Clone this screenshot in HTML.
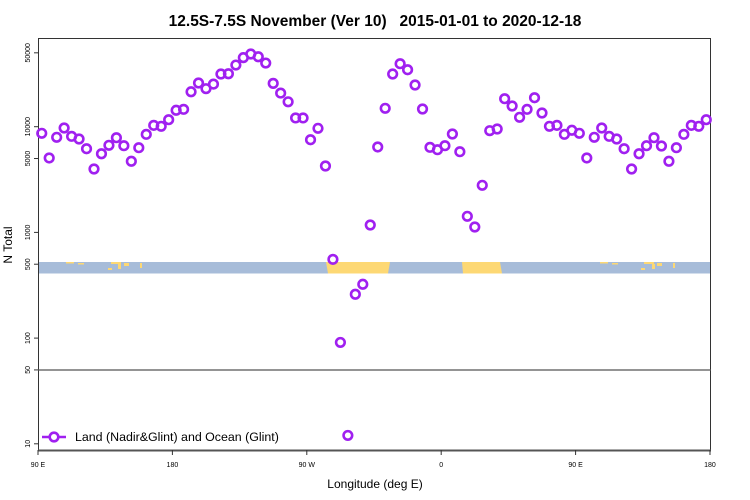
<!DOCTYPE html>
<html><head><meta charset="utf-8"><style>
body{margin:0;background:#fff;}
svg{display:block;font-family:"Liberation Sans",sans-serif;}
</style></head><body>
<svg id="chart" width="750" height="500" viewBox="0 0 750 500" xmlns="http://www.w3.org/2000/svg">
<text xml:space="preserve" style="white-space:pre" x="375" y="26" font-size="15.5" font-weight="bold" text-anchor="middle">12.5S-7.5S November (Ver 10)   2015-01-01 to 2020-12-18</text>
<g id="band">
<rect x="38" y="262" width="672" height="11.5" fill="#a7bcd9"/>
<polygon points="326,262 390,262 388,273.5 328,273.5" fill="#fdd874"/>
<polygon points="462,262 500,262 502,273.5 463,273.5" fill="#fdd874"/>
<rect x="66" y="262" width="8" height="1.5" fill="#fdd874"/><rect x="78" y="263" width="6" height="1.5" fill="#fdd874"/>
<rect x="111" y="262" width="10" height="2" fill="#fdd874"/><rect x="118" y="264" width="3" height="5" fill="#fdd874"/>
<rect x="124" y="263" width="5" height="3" fill="#fdd874"/><rect x="108" y="268" width="4" height="2" fill="#fdd874"/>
<rect x="140" y="263" width="2" height="5" fill="#fdd874"/>
<rect x="600" y="262" width="8" height="1.5" fill="#fdd874"/><rect x="612" y="263" width="6" height="1.5" fill="#fdd874"/>
<rect x="644" y="262" width="10" height="2" fill="#fdd874"/><rect x="652" y="264" width="3" height="5" fill="#fdd874"/>
<rect x="657" y="263" width="5" height="3" fill="#fdd874"/><rect x="641" y="268" width="4" height="2" fill="#fdd874"/>
<rect x="673" y="263" width="2" height="5" fill="#fdd874"/>
</g>
<g id="axes"></g>
<g id="points"></g>
<g>
<line x1="42" y1="437" x2="66" y2="437" stroke="#a020f0" stroke-width="2.5"/>
<circle cx="54" cy="437" r="4.3" fill="#fff" stroke="#a020f0" stroke-width="2.6"/>
<text x="75" y="441" font-size="12.4">Land (Nadir&amp;Glint) and Ocean (Glint)</text>
</g>
<text x="375" y="488" font-size="12" text-anchor="middle">Longitude (deg E)</text>
<text transform="translate(12,245) rotate(-90)" font-size="12" text-anchor="middle">N Total</text>
</svg>
<script>
const lonStart = 92.5, lonStep = 5;
const counts = [8660,5060,7940,9720,8110,7650,6190,3980,5550,6670,7870,6610,4710,6330,8470,10300,10090,11650,14300,14600,
21400,25900,22900,25300,31500,31700,38300,45000,48700,45900,40000,25700,20800,17200,12100,12100,7530,9660,4250,556,
91,12,260,323,1175,6430,14930,31500,39450,34600,24800,14700,6380,6060,6610,8530,5800,1420,1125,2790,
9170,9510,18400,15700,12270,14600,18800,13480,10090,10300,8470,9250,8660,5060,7940,9720,8110,7650,6190,3980,
5550,6610,7870,6570,4710,6330,8470,10300,10090,11650];
const yTicks = [50000,10000,5000,1000,500,100,50,10];
const xTickLon = [90,180,270,360,450,540];
const xTickLabels = ["90 E","180","90 W","0","90 E","180"];
const NS="http://www.w3.org/2000/svg";
function xs(lon){return 38+(lon-90)*1.4933;}
function ys(v){return 126.7-(Math.log10(v)-4)*105.7;}
function mk(tag,attrs,parent){const e=document.createElementNS(NS,tag);for(const k in attrs)e.setAttribute(k,attrs[k]);parent.appendChild(e);return e;}
const ax=document.getElementById('axes');
let l;
l=mk('line',{x1:38,y1:38.5,x2:710,y2:38.5,stroke:'#333','stroke-width':1},ax);


l=mk('line',{x1:38.5,y1:38,x2:38.5,y2:451,stroke:'#333','stroke-width':1},ax);


l=mk('line',{x1:710.5,y1:38,x2:710.5,y2:451,stroke:'#333','stroke-width':1},ax);


l=mk('line',{x1:38,y1:370,x2:711,y2:370,stroke:'#555','stroke-width':1.3},ax);


l=mk('line',{x1:38,y1:450.5,x2:711,y2:450.5,stroke:'#555','stroke-width':2},ax);


yTicks.forEach(v=>{
  const y=ys(v);
  const t=mk('line',{x1:34,y1:y,x2:38,y2:y,stroke:'#333'},ax);
  
  
  const tx=mk('text',{transform:`translate(30,${y}) rotate(-90)`,'font-size':7,'text-anchor':'middle'},ax);
  tx.textContent=v;
  
  
});
xTickLon.forEach((lon,i)=>{
  const x=xs(lon);
  const t=mk('line',{x1:x,y1:450,x2:x,y2:455,stroke:'#333'},ax);
  
  
  const tx=mk('text',{x:x,y:467,'font-size':7,'text-anchor':'middle'},ax);
  tx.textContent=xTickLabels[i];
  
  
});
const pg=document.getElementById('points');
counts.forEach((v,i)=>{
  const c=mk('circle',{cx:xs(lonStart+i*lonStep),cy:ys(v),r:4.3,fill:'none',stroke:'#a020f0','stroke-width':2.6},pg);
  
  
});
</script>
</body></html>
